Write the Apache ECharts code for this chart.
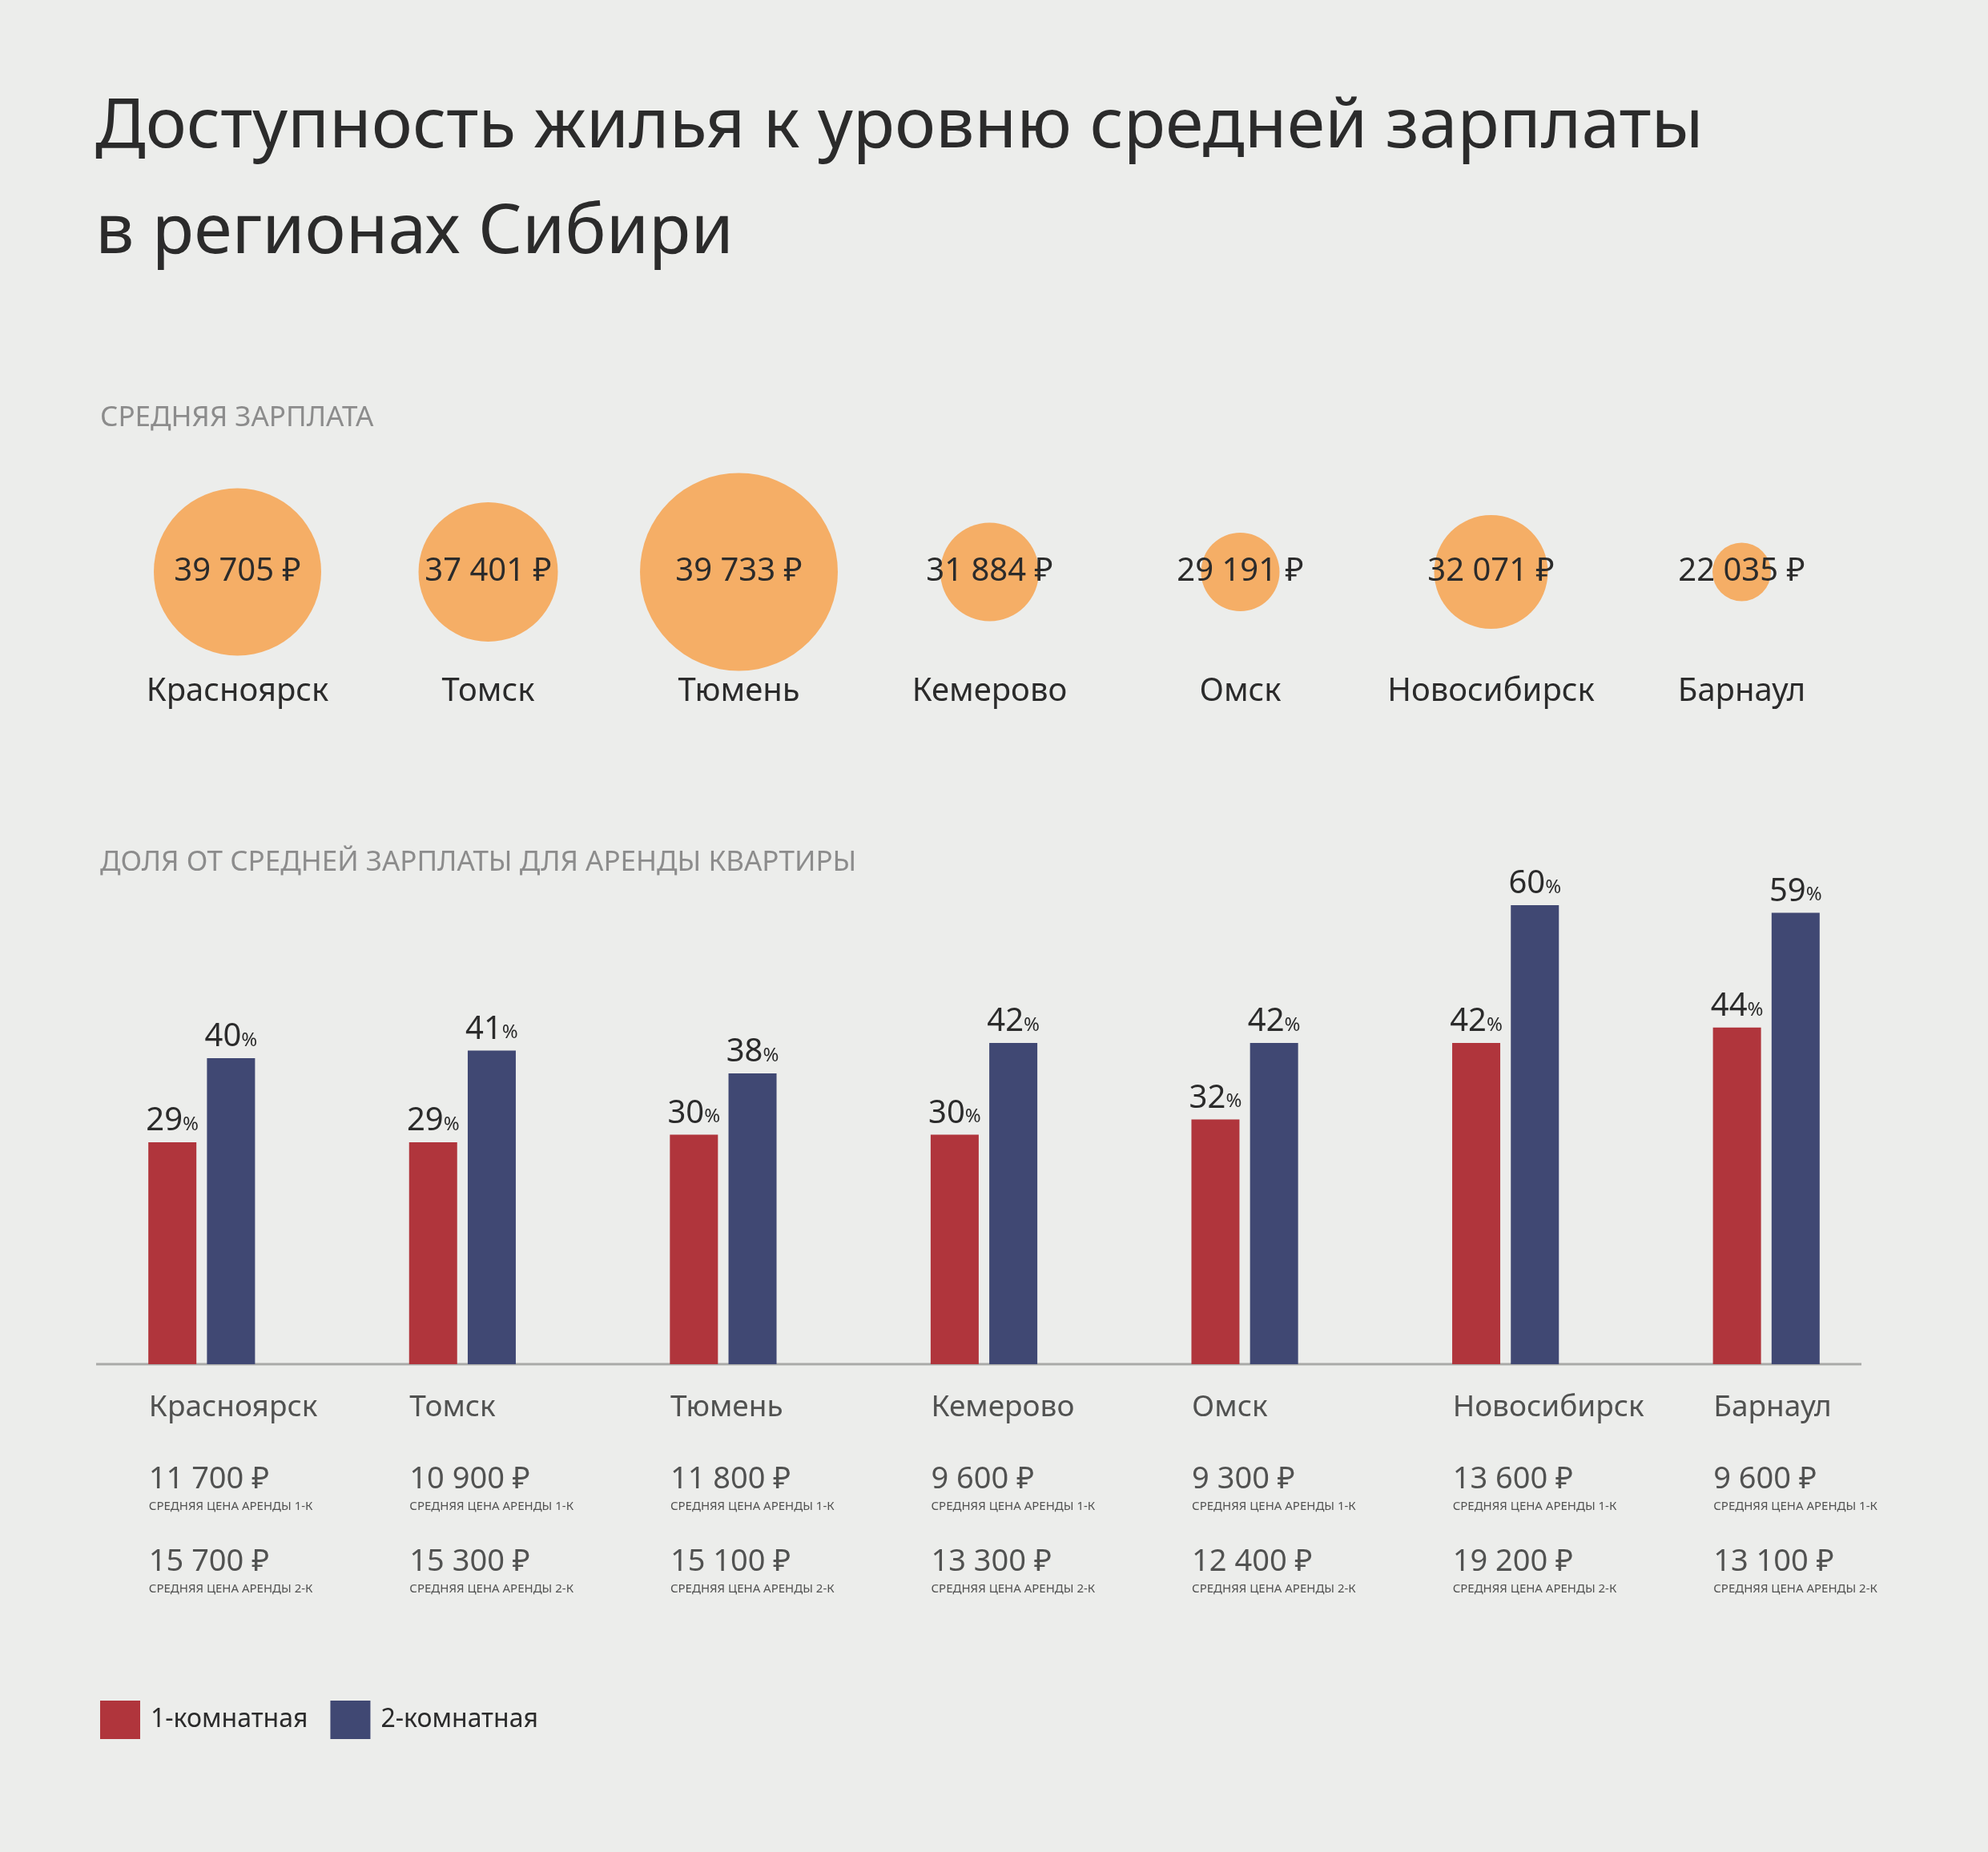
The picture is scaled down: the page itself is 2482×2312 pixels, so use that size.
<!DOCTYPE html>
<html><head><meta charset="utf-8">
<script src="https://cdn.jsdelivr.net/npm/echarts@6/dist/echarts.min.js"></script>
<style>html,body{margin:0;padding:0;background:#ecedeb}#c{width:2482px;height:2312px}</style>
</head><body><div id="c"></div>
<script>
const cities = ['Красноярск','Томск','Тюмень','Кемерово','Омск','Новосибирск','Барнаул'];
const salary = ['39 705 ₽','37 401 ₽','39 733 ₽','31 884 ₽','29 191 ₽','32 071 ₽','22 035 ₽'];
const bubbleSize = [209,174,247,123,98,142,73];
const share1 = [29,29,30,30,32,42,44];
const share2 = [40,41,38,42,42,60,59];
const rent1 = ['11 700 ₽','10 900 ₽','11 800 ₽','9 600 ₽','9 300 ₽','13 600 ₽','9 600 ₽'];
const rent2 = ['15 700 ₽','15 300 ₽','15 100 ₽','13 300 ₽','12 400 ₽','19 200 ₽','13 100 ₽'];

const F = 'Noto Sans';
const chart = echarts.init(document.getElementById('c'));
const pctLabel = {show:true,position:'top',distance:6,formatter:p=>'{n|'+p.value+'}{p|%}',
  rich:{n:{fontSize:40,color:'#2b2b2b',fontFamily:F},p:{fontSize:24,color:'#2b2b2b',fontFamily:F,padding:[8,0,0,0]}}};
chart.setOption({
  backgroundColor:'#ecedeb',
  textStyle:{fontFamily:F},
  title:[
    {text:'Доступность жилья к уровню средней зарплаты\nв регионах Сибири',left:114,top:88,
     textStyle:{fontSize:86,fontWeight:'normal',color:'#2b2b2b',lineHeight:132,fontFamily:F}},
    {text:'СРЕДНЯЯ ЗАРПЛАТА',left:120,top:500,textStyle:{fontSize:35,fontWeight:'normal',color:'#8c8c8c',fontFamily:F}},
    {text:'ДОЛЯ ОТ СРЕДНЕЙ ЗАРПЛАТЫ ДЛЯ АРЕНДЫ КВАРТИРЫ',left:120,top:1055,textStyle:{fontSize:35,fontWeight:'normal',color:'#8c8c8c',fontFamily:F}}
  ],
  legend:{data:['1-комнатная','2-комнатная'],left:120,top:2118,itemWidth:50,itemHeight:48,itemGap:28,icon:'rect',
    textStyle:{fontSize:32,color:'#2b2b2b',fontFamily:F,padding:[0,0,0,8]}},
  grid:[
    {left:140,width:2191,top:600,height:228},
    {left:89,width:2279,top:1130,height:573}
  ],
  xAxis:[
    {type:'category',gridIndex:0,data:cities,axisLine:{show:false},axisTick:{show:false},
     axisLabel:{interval:0,margin:16,fontSize:40,color:'#2b2b2b',fontFamily:F}},
    {type:'category',gridIndex:1,data:cities,axisLine:{show:false},axisTick:{show:false},axisLabel:{show:false}}
  ],
  yAxis:[
    {type:'value',gridIndex:0,min:-1,max:1,show:false},
    {type:'value',gridIndex:1,min:0,max:60,show:false}
  ],
  graphic:[{type:'line',shape:{x1:120,y1:1703,x2:2324,y2:1703},style:{stroke:'#a9aaa8',lineWidth:3}}],
  series:[
    {type:'scatter',xAxisIndex:0,yAxisIndex:0,data:cities.map((c,i)=>[i,0]),
     symbolSize:(v,p)=>bubbleSize[p.dataIndex],itemStyle:{color:'#f5ae66',opacity:1},
     label:{show:true,position:'inside',formatter:p=>salary[p.dataIndex],fontSize:40,color:'#2b2b2b',fontFamily:F}},
    {name:'1-комнатная',type:'bar',xAxisIndex:1,yAxisIndex:1,data:share1,barWidth:60,barGap:'22%',
     itemStyle:{color:'#b0353c'},label:pctLabel},
    {name:'2-комнатная',type:'bar',xAxisIndex:1,yAxisIndex:1,data:share2,barWidth:60,barGap:'22%',
     itemStyle:{color:'#404873'},label:pctLabel},
    {type:'scatter',xAxisIndex:1,yAxisIndex:1,data:cities.map((c,i)=>[i,0]),symbolSize:0,silent:true,
     label:{show:true,position:'bottom',distance:0,offset:[-66,24],align:'left',verticalAlign:'top',
       formatter:p=>'{c|'+cities[p.dataIndex]+'}\n{g| }\n{v|'+rent1[p.dataIndex]+'}\n{s|СРЕДНЯЯ ЦЕНА АРЕНДЫ 1-К}\n{g| }\n{v|'+rent2[p.dataIndex]+'}\n{s|СРЕДНЯЯ ЦЕНА АРЕНДЫ 2-К}',
       rich:{c:{fontSize:37,lineHeight:60,color:'#2b2b2b',fontFamily:F},
             g:{fontSize:10,lineHeight:35},
             v:{fontSize:38,lineHeight:50,color:'#2b2b2b',fontFamily:F},
             s:{fontSize:15,lineHeight:18,color:'#2b2b2b',fontFamily:F}}}}
  ]
});
</script></body></html>
